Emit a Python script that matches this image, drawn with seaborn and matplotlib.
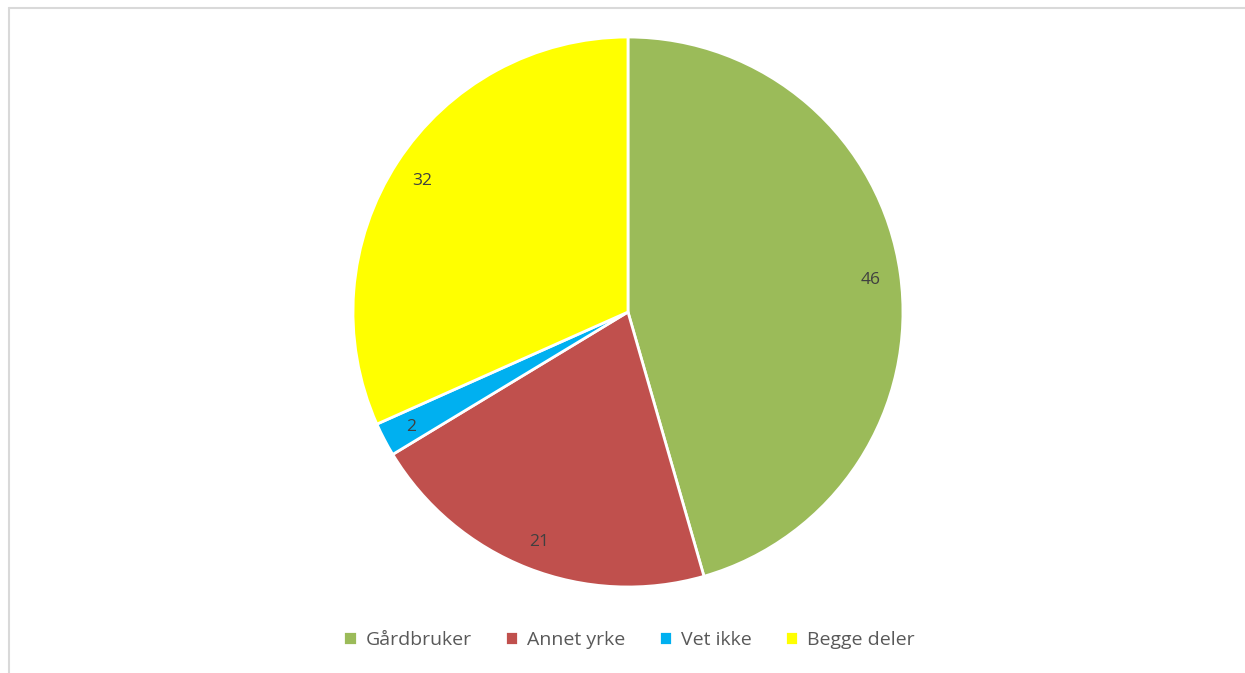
import matplotlib.pyplot as plt
from matplotlib.lines import Line2D
import seaborn as sns

# Data
categories = ["Gårdbruker", "Annet yrke", "Vet ikke", "Begge deler"]
values = [46, 21, 2, 32]
colors = ["#9BBB59", "#C0504D", "#00B0F0", "#FFFF00"]

sns.set_theme(style="white")
plt.rcParams['font.family'] = ['Open Sans', 'DejaVu Sans']

fig = plt.figure(figsize=(12.45, 6.73), dpi=100)
ax = fig.add_axes([0.2835, 0.1278, 0.4418, 0.8172])

wedges, texts = ax.pie(
    values,
    colors=sns.color_palette(colors),
    startangle=90,
    counterclock=False,
    labels=[str(v) for v in values],
    labeldistance=0.89,
    wedgeprops=dict(edgecolor="white", linewidth=2),
    textprops=dict(color="#404040", fontsize=12.5),
)
for t in texts:
    t.set_horizontalalignment("center")
    t.set_verticalalignment("center_baseline")
ax.set_xlim(-1, 1)
ax.set_ylim(-1, 1)
ax.set_aspect("equal")

# Legend
fig.legend(
    wedges, categories,
    loc="center", bbox_to_anchor=(629 / 1245, 1 - 640 / 673),
    ncol=4, frameon=False, fontsize=14,
    handlelength=0.7, handleheight=0.7, handletextpad=0.45, columnspacing=1.7,
    labelcolor="#595959",
)

# Chart frame (only top and left edges visible)
x0, y0 = 8.5 / 1245, 1 - 7.5 / 673
fig.add_artist(Line2D([x0, 1.0], [y0, y0], transform=fig.transFigure,
                      color="#D9D9D9", linewidth=1.5))
fig.add_artist(Line2D([x0, x0], [0.0, y0], transform=fig.transFigure,
                      color="#D9D9D9", linewidth=1.5))

plt.savefig("out.png", dpi=100)
plt.close()
